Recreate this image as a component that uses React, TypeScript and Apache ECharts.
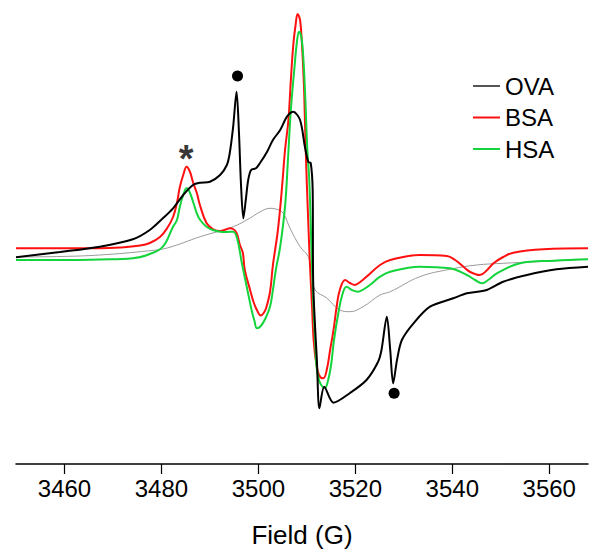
import React, { useEffect, useRef } from "react";
import * as echarts from "echarts";

// Field (G) and signal (arb. units)
const ovaField = [3450.0, 3459.1, 3467.3, 3474.1, 3477.6, 3480.3, 3482.4, 3484.5, 3486.5, 3488.0, 3490.0, 3492.1, 3493.5, 3494.1, 3494.8, 3495.5, 3496.0, 3496.4, 3496.9, 3497.4, 3497.9, 3498.5, 3499.5, 3500.3, 3501.8, 3503.0, 3504.5, 3505.9, 3507.2, 3508.6, 3509.6, 3510.3, 3510.8, 3511.2, 3511.3, 3512.1, 3512.6, 3513.6, 3515.5, 3518.9, 3522.3, 3524.7, 3525.4, 3526.5, 3527.2, 3527.8, 3528.6, 3529.6, 3532.0, 3535.4, 3540.2, 3543.0, 3547.1, 3550.5, 3555.4, 3561.5, 3568.0];
const ovaSignal = [-1.3, 4, 9.3, 16.7, 26, 37.7, 47.7, 61, 71, 73.3, 74.3, 81, 91, 103, 129.3, 164.3, 123, 73, 37.7, 56, 76, 86, 87.7, 92.7, 104.3, 116, 126, 139.3, 144.3, 136, 109.3, 94, 93, 66, -24, -107.3, -152.3, -130.7, -146.7, -137, -124, -105.7, -94, -60.7, -94, -127.3, -104, -84, -67.3, -50.7, -42.3, -37.3, -34, -25.7, -19, -13.3, -10.7];

const bsaField = [3450.0, 3467.3, 3471.5, 3475.6, 3477.6, 3479.7, 3481.2, 3482.4, 3483.2, 3483.8, 3484.5, 3485.2, 3485.9, 3486.5, 3487.3, 3488.0, 3489.3, 3490.6, 3492.1, 3493.3, 3494.1, 3494.8, 3495.5, 3496.2, 3496.8, 3497.2, 3498.3, 3499.0, 3499.7, 3500.5, 3501.1, 3501.6, 3502.4, 3503.0, 3503.9, 3504.5, 3505.0, 3505.5, 3506.2, 3506.7, 3507.2, 3507.7, 3508.1, 3508.6, 3509.0, 3509.4, 3509.6, 3509.9, 3510.2, 3510.6, 3511.1, 3511.4, 3511.9, 3512.5, 3513.4, 3514.1, 3514.8, 3515.5, 3516.2, 3516.8, 3517.9, 3518.9, 3519.9, 3521.0, 3522.3, 3525.1, 3527.2, 3533.3, 3538.9, 3540.6, 3542.3, 3543.7, 3545.7, 3547.2, 3548.5, 3550.5, 3552.6, 3558.8, 3568.0];
const bsaSignal = [7.7, 7.7, 8.5, 10.5, 13, 19, 28, 39, 53, 69, 81, 89.3, 84, 74, 63, 50, 33, 27, 25, 26.5, 27.7, 27, 23, 11, 3, -14, -34, -46, -54, -59.5, -57, -52, -36, -9, 21, 48, 76, 106, 136, 176, 211, 232, 242, 236, 211, 171, 136, 86, 46, -4, -54, -84, -106, -119, -122.3, -114, -94, -74, -49, -34, -24, -27, -29, -26, -20.7, -9, -4, 1, 0, -4, -10.7, -16, -19, -14, -7.3, -1, 3.3, 6.7, 7.7];

const hsaField = [3450.0, 3459.1, 3467.3, 3474.1, 3477.6, 3480.3, 3482.4, 3483.2, 3483.8, 3484.5, 3485.2, 3485.9, 3487.3, 3488.0, 3489.3, 3490.6, 3492.1, 3493.3, 3494.8, 3495.6, 3496.6, 3497.6, 3498.6, 3499.2, 3499.7, 3500.5, 3501.4, 3502.4, 3503.0, 3503.6, 3504.5, 3505.5, 3506.1, 3506.7, 3507.4, 3508.0, 3508.4, 3508.9, 3509.3, 3509.7, 3510.1, 3510.5, 3510.9, 3511.3, 3511.7, 3512.0, 3512.5, 3513.1, 3513.7, 3514.3, 3515.0, 3515.6, 3516.5, 3517.3, 3518.2, 3519.3, 3520.6, 3521.8, 3523.0, 3525.1, 3527.2, 3533.3, 3539.5, 3543.0, 3544.7, 3546.1, 3547.4, 3549.2, 3554.0, 3560.9, 3568.0];
const hsaSignal = [-4, -4, -3.5, -2.3, 2, 9.3, 29.3, 36, 49.3, 61, 67.7, 63, 42.7, 36, 29.3, 26, 24.3, 24, 24.3, 18, -7.3, -30.7, -54, -65, -72.3, -70, -63, -50.7, -34, -14, 9.3, 49.3, 96, 146, 186, 216, 224.3, 218, 196, 156, 106, 76, 16, -44, -84, -110.7, -124, -130, -132, -126, -109, -84, -57, -39, -30.7, -34, -35.7, -33, -29, -20.7, -15.7, -10.7, -12.3, -19, -24, -27.3, -24, -17.3, -7.3, -4.7, -3.3];

const refField = [3450.0, 3459.1, 3467.3, 3477.6, 3481.2, 3488.0, 3494.8, 3498.3, 3500.3, 3502.4, 3503.6, 3505.1, 3506.5, 3508.6, 3510.3, 3511.1, 3511.7, 3514.1, 3516.8, 3518.9, 3521.6, 3525.1, 3527.2, 3533.3, 3539.5, 3545.0, 3550.5, 3557.4, 3568.0];
const refSignal = [-1, -0.5, 1, 5.3, 8, 19.3, 29.3, 38, 44, 47.7, 47, 43, 28, 9.3, -0.7, -19, -34, -42, -54, -55.7, -50.7, -39, -35.7, -20.7, -13.3, -9, -7.3, -5.7, -3.3];

const dotField = [3495.7, 3528.0];
const dotSignal = [180, -137.3];
const starField = [3485.1];
const starSignal = [106];

const xTickLabels = [3460, 3480, 3500, 3520, 3540, 3560];
const seriesNames = ["OVA", "BSA", "HSA"];
const xTitle = "Field (G)";

const zip = (a: number[], b: number[]) => a.map((v, i) => [v, b[i]]);
const FONT = "'Liberation Sans', Arial, Helvetica, sans-serif";

export default function App() {
  const ref = useRef<HTMLDivElement>(null);
  useEffect(() => {
    if (!ref.current) return;
    const chart = echarts.init(ref.current, undefined, { renderer: "svg" });
    const lineBase = { type: "line", showSymbol: false, symbol: "none", smooth: 0.4 };
    chart.setOption({
      animation: false,
      backgroundColor: "#ffffff",
      grid: { left: 16, right: 2, top: 0, bottom: 85, containLabel: false, outerBoundsMode: "none" },
      legend: {
        orient: "vertical",
        left: 468,
        top: 69,
        itemWidth: 27,
        itemHeight: 2,
        itemGap: 7.5,
        textStyle: { fontSize: 24, fontFamily: FONT, color: "#000" },
        data: [
          { name: seriesNames[0], icon: "rect", itemStyle: { color: "#555" } },
          { name: seriesNames[1], icon: "rect" },
          { name: seriesNames[2], icon: "rect" },
        ],
      },
      xAxis: {
        type: "value",
        min: 3450,
        max: 3568,
        name: xTitle,
        nameLocation: "middle",
        nameGap: 58,
        nameTextStyle: { fontSize: 26, fontFamily: FONT, color: "#000" },
        axisLine: { show: true, onZero: false, lineStyle: { color: "#000", width: 1.5 } },
        axisTick: { show: true, inside: false, length: 10, lineStyle: { color: "#000", width: 1.2 }, customValues: xTickLabels },
        axisLabel: { fontSize: 24, fontFamily: FONT, color: "#000", margin: 12, customValues: xTickLabels, formatter: (v: number) => String(v) },
        splitLine: { show: false },
      },
      yAxis: { type: "value", min: -208, max: 256, show: false, splitLine: { show: false } },
      series: [
        { ...lineBase, name: "reference", data: zip(refField, refSignal), lineStyle: { color: "#9a9a9a", width: 1 }, z: 1 },
        { ...lineBase, name: seriesNames[0], data: zip(ovaField, ovaSignal), smooth: 0.3, color: "#000", lineStyle: { color: "#000", width: 2 }, z: 4 },
        { ...lineBase, name: seriesNames[1], data: zip(bsaField, bsaSignal), color: "#ff1010", lineStyle: { color: "#ff1010", width: 2 }, z: 2 },
        { ...lineBase, name: seriesNames[2], data: zip(hsaField, hsaSignal), color: "#14d43c", lineStyle: { color: "#14d43c", width: 2 }, z: 3 },
        { name: "dots", type: "scatter", data: zip(dotField, dotSignal), symbol: "circle", symbolSize: 11, itemStyle: { color: "#000", opacity: 1 }, z: 5 },
        {
          name: "star", type: "scatter", data: zip(starField, starSignal), symbolSize: 1, itemStyle: { color: "rgba(0,0,0,0)" }, z: 5,
          label: { show: true, position: "inside", formatter: "*", fontSize: 38, fontWeight: "bold", fontFamily: FONT, color: "#000", offset: [0, 9] },
        },
      ],
    });
    return () => chart.dispose();
  }, []);
  return <div ref={ref} style={{ position: "absolute", left: 0, top: 0, width: 590, height: 549 }} />;
}
